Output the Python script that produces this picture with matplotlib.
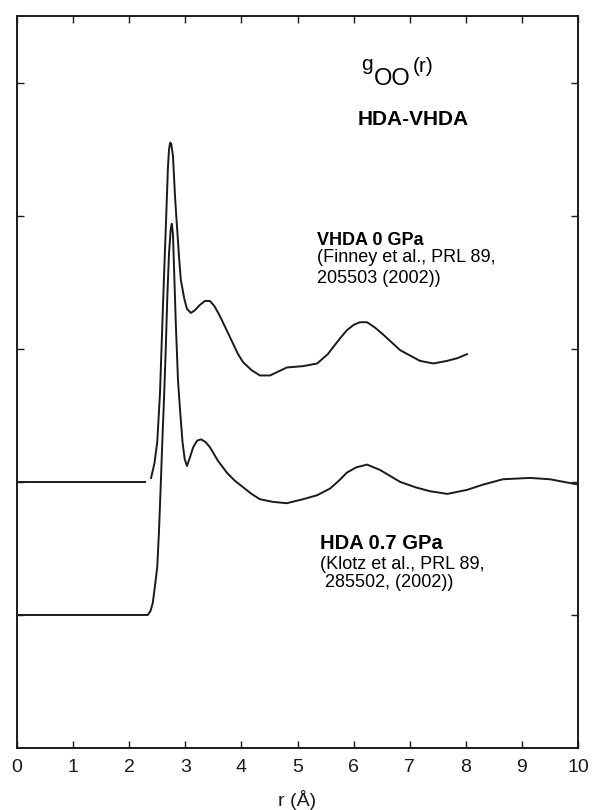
import matplotlib
matplotlib.use("Agg")
import matplotlib.pyplot as plt

plt.rcParams['font.family'] = ['Liberation Sans', 'DejaVu Sans']

# g_OO(r) of VHDA at 0 GPa (curve offset by 2)
vhda_off = 2
vhda_base_r = [0.0, 2.28]
vhda_base_g = [0.0, 0.0]
vhda_r = [2.39, 2.45, 2.50, 2.55, 2.60, 2.66, 2.69, 2.71, 2.73, 2.75, 2.78, 2.82,
          2.89, 2.92, 2.98, 3.03, 3.10, 3.17, 3.26, 3.35, 3.44, 3.52, 3.60, 3.67,
          3.76, 3.85, 3.94, 4.03, 4.18, 4.33, 4.51, 4.66, 4.81, 5.10, 5.35, 5.54,
          5.63, 5.76, 5.88, 6.00, 6.11, 6.24, 6.38, 6.52, 6.83, 7.18, 7.42, 7.67,
          7.85, 8.02]
vhda_g = [0.03, 0.14, 0.30, 0.68, 1.30, 2.00, 2.36, 2.50, 2.55, 2.54, 2.45, 2.12,
          1.68, 1.52, 1.38, 1.30, 1.27, 1.29, 1.33, 1.36, 1.36, 1.32, 1.26, 1.20,
          1.12, 1.04, 0.96, 0.90, 0.84, 0.80, 0.80, 0.83, 0.86, 0.87, 0.89, 0.96,
          1.01, 1.08, 1.14, 1.18, 1.20, 1.20, 1.16, 1.11, 0.99, 0.91, 0.89, 0.91,
          0.93, 0.96]

# g_OO(r) of HDA at 0.7 GPa (curve offset by 1)
hda_off = 1
hda_r = [0.0, 2.33, 2.38, 2.42, 2.46, 2.50, 2.53, 2.56, 2.59, 2.62, 2.65, 2.68,
         2.71, 2.74, 2.76, 2.78, 2.80, 2.83, 2.87, 2.91, 2.95, 2.99, 3.03, 3.08,
         3.14, 3.21, 3.28, 3.36, 3.44, 3.58, 3.74, 3.88, 4.03, 4.18, 4.33, 4.56,
         4.81, 5.10, 5.35, 5.58, 5.74, 5.88, 6.05, 6.24, 6.47, 6.83, 7.10, 7.36,
         7.67, 8.02, 8.31, 8.66, 9.14, 9.50, 9.75, 10.0]
hda_g = [0.0, 0.0, 0.03, 0.09, 0.22, 0.36, 0.62, 0.95, 1.30, 1.62, 1.98, 2.40,
         2.72, 2.90, 2.94, 2.86, 2.60, 2.20, 1.76, 1.52, 1.30, 1.17, 1.12, 1.18,
         1.26, 1.31, 1.32, 1.30, 1.26, 1.16, 1.07, 1.01, 0.96, 0.91, 0.87, 0.85,
         0.84, 0.87, 0.90, 0.95, 1.01, 1.07, 1.11, 1.13, 1.09, 1.00, 0.96, 0.93,
         0.91, 0.94, 0.98, 1.02, 1.03, 1.02, 1.00, 0.98]

x_ticks = list(range(0, 11))
y_ticks = [1, 2, 3, 4, 5]

fig = plt.figure(figsize=(5.92, 8.10), dpi=100)
ax = fig.add_axes([0.0287, 0.0765, 0.9477, 0.9035])

lw = 1.4
ax.plot(vhda_base_r, [g + vhda_off for g in vhda_base_g], color='#1a1a1a', lw=lw)
ax.plot(vhda_r, [g + vhda_off for g in vhda_g], color='#1a1a1a', lw=lw)
ax.plot(hda_r, [g + hda_off for g in hda_g], color='#1a1a1a', lw=lw)

ax.set_xlim(0, 10)
ax.set_ylim(0, 5.5)
ax.set_xticks(x_ticks)
ax.set_yticks(y_ticks)
ax.set_yticklabels([])
ax.tick_params(direction='in', length=5, width=1.0, top=True, right=True,
               labelsize=14, pad=8, colors='#1a1a1a')
ax.tick_params(axis='x', labeltop=False)
for s in ax.spines.values():
    s.set_linewidth(1.4)
    s.set_color('#1a1a1a')
ax.set_xlabel('r (Å)', fontsize=14, labelpad=10, color='#1a1a1a')

# title block
ax.text(0.613, 0.927, 'g', transform=ax.transAxes, fontsize=15, va='baseline')
ax.text(0.636, 0.906, 'OO', transform=ax.transAxes, fontsize=17, va='baseline')
ax.text(0.706, 0.924, '(r)', transform=ax.transAxes, fontsize=15, va='baseline')
ax.text(0.607, 0.852, 'HDA-VHDA', transform=ax.transAxes, fontsize=15,
        fontweight='bold', va='baseline')

ax.text(0.535, 0.688, 'VHDA 0 GPa', transform=ax.transAxes, fontsize=13,
        fontweight='bold', va='baseline')
ax.text(0.535, 0.636, '(Finney et al., PRL 89,\n205503 (2002))',
        transform=ax.transAxes, fontsize=13, va='baseline', linespacing=1.25)

ax.text(0.540, 0.272, 'HDA 0.7 GPa', transform=ax.transAxes, fontsize=14.5,
        fontweight='bold', va='baseline')
ax.text(0.540, 0.220, '(Klotz et al., PRL 89,\n 285502, (2002))',
        transform=ax.transAxes, fontsize=13, va='baseline', linespacing=1.05)

fig.savefig('out.png', dpi=100)
